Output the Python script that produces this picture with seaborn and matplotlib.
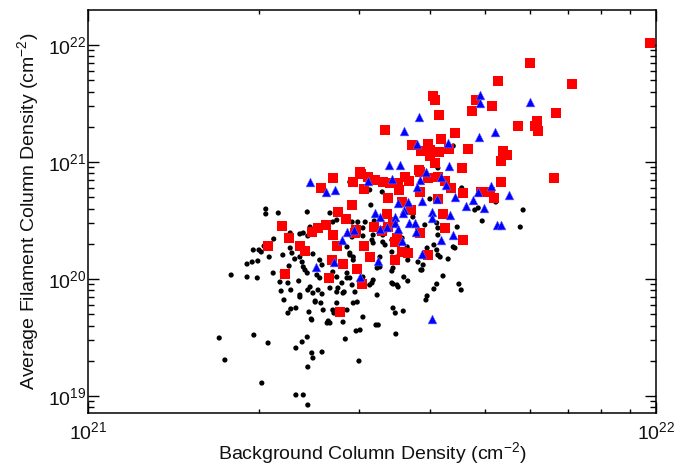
import numpy as np
import pandas as pd
import matplotlib
matplotlib.use("Agg")
import matplotlib.pyplot as plt
import seaborn as sns
from matplotlib.ticker import FixedLocator, NullFormatter, LogLocator

# log10 of column densities (cm^-2)
black_log_bg = [
    21.313, 21.313, 21.335, 21.386, 21.327, 21.291, 21.301, 21.305, 21.310, 21.319,
    21.280, 21.289, 21.299, 21.252, 21.280, 21.298, 21.326, 21.342, 21.338, 21.352,
    21.371, 21.386, 21.379, 21.359, 21.364, 21.373, 21.356, 21.343, 21.356, 21.373,
    21.379, 21.387, 21.340, 21.357, 21.373, 21.387, 21.345, 21.357, 21.352, 21.366,
    21.389, 21.231, 21.292, 21.317, 21.386, 21.377, 21.366, 21.241, 21.387, 21.306,
    21.366, 21.379, 21.387, 21.354, 21.396, 21.400, 21.405, 21.410, 21.414, 21.423,
    21.426, 21.433, 21.438, 21.456, 21.440, 21.393, 21.394, 21.396, 21.412, 21.453,
    21.472, 21.479, 21.542, 21.477, 21.377, 21.382, 21.396, 21.408, 21.412, 21.403,
    21.408, 21.431, 21.438, 21.456, 21.461, 21.484, 21.509, 21.514, 21.535, 21.544,
    21.461, 21.467, 21.391, 21.412, 21.426, 21.438, 21.449, 21.465, 21.496, 21.509,
    21.535, 21.544, 21.373, 21.400, 21.467, 21.474, 21.431, 21.438, 21.394, 21.421,
    21.449, 21.484, 21.511, 21.541, 21.456, 21.461, 21.467, 21.502, 21.502, 21.514,
    21.519, 21.523, 21.537, 21.535, 21.562, 21.563, 21.581, 21.588, 21.597, 21.609,
    21.614, 21.616, 21.620, 21.634, 21.646, 21.625, 21.614, 21.609, 21.597, 21.595,
    21.653, 21.657, 21.556, 21.563, 21.537, 21.546, 21.502, 21.500, 21.451, 21.470,
    21.447, 21.456, 21.537, 21.555, 21.507, 21.590, 21.586, 21.426, 21.461, 21.518,
    21.498, 21.488, 21.475, 21.438, 21.431, 21.391, 21.465, 21.484, 21.500, 21.535,
    21.523, 21.602, 21.658, 21.681, 21.687, 21.694, 21.650, 21.593, 21.614, 21.616,
    21.616, 21.643, 21.496, 21.718, 21.766, 21.761, 21.616, 21.643, 21.504, 21.465,
    21.474, 21.484, 21.572, 21.541, 21.553, 21.519,
]
black_log_fil = [
    20.598, 20.556, 20.564, 20.573, 20.342, 20.248, 20.248, 20.231, 20.282, 20.188,
    20.128, 20.145, 20.154, 20.034, 20.017, 20.009, 20.051, 20.060, 19.974, 19.966,
    19.983, 20.051, 20.103, 20.222, 20.171, 20.188, 20.265, 20.205, 20.393, 20.385,
    20.393, 20.368, 19.897, 19.906, 19.846, 19.906, 19.821, 19.744, 19.709, 19.752,
    19.718, 19.496, 19.521, 19.453, 19.504, 19.462, 19.410, 19.308, 19.248, 19.111,
    19.009, 19.009, 18.923, 20.111, 19.880, 19.812, 19.906, 19.795, 19.735, 19.641,
    19.624, 19.709, 19.795, 19.735, 19.923, 19.658, 19.368, 19.325, 19.376, 19.487,
    19.556, 19.564, 19.530, 19.299, 20.145, 20.077, 20.214, 20.162, 20.120, 20.034,
    20.009, 20.060, 20.017, 20.051, 20.009, 20.017, 20.094, 20.103, 20.231, 20.188,
    20.205, 20.162, 19.932, 19.872, 19.923, 19.889, 19.880, 19.949, 19.949, 19.863,
    19.966, 19.949, 19.863, 19.803, 19.795, 19.803, 19.735, 19.709, 19.650, 19.624,
    19.632, 19.675, 19.607, 19.709, 20.274, 20.222, 20.188, 20.376, 20.308, 20.188,
    20.316, 20.291, 20.094, 20.068, 20.274, 20.162, 20.145, 20.077, 20.265, 20.291,
    20.248, 20.205, 20.188, 20.171, 20.265, 20.026, 19.957, 19.915, 19.855, 19.821,
    19.957, 19.906, 20.017, 19.983, 19.957, 19.932, 19.991, 19.966, 19.889, 19.889,
    19.966, 20.009, 19.752, 19.726, 19.607, 20.120, 20.077, 20.564, 20.829, 20.744,
    20.632, 20.487, 20.487, 20.504, 20.487, 20.444, 20.359, 20.368, 20.333, 20.333,
    20.410, 20.684, 20.778, 20.590, 20.607, 20.496, 20.444, 20.462, 20.479, 20.436,
    20.376, 20.274, 20.761, 20.658, 20.590, 20.444, 20.949, 21.137, 20.496, 20.487,
    20.444, 20.436, 20.530, 20.359, 20.350, 20.376,
]

red_log_bg = [
    21.989, 21.778, 21.722, 21.852, 21.607, 21.611, 21.683, 21.711, 21.676, 21.618,
    21.824, 21.791, 21.787, 21.792, 21.757, 21.523, 21.646, 21.622, 21.599, 21.570,
    21.586, 21.602, 21.618, 21.602, 21.636, 21.669, 21.731, 21.738, 21.727, 21.611,
    21.658, 21.583, 21.479, 21.820, 21.727, 21.467, 21.493, 21.505, 21.519, 21.532,
    21.546, 21.558, 21.565, 21.585, 21.599, 21.616, 21.629, 21.639, 21.486, 21.548,
    21.585, 21.528, 21.553, 21.616, 21.660, 21.692, 21.708, 21.715, 21.465, 21.526,
    21.569, 21.625, 21.431, 21.481, 21.410, 21.440, 21.454, 21.419, 21.405, 21.394,
    21.431, 21.472, 21.504, 21.528, 21.544, 21.486, 21.438, 21.373, 21.629, 21.660,
    21.585, 21.518, 21.537, 21.470, 21.541, 21.553, 21.563, 21.599, 21.497, 21.541,
    21.474, 21.482, 21.449, 21.444, 21.382, 21.430, 21.424, 21.342, 21.354, 21.317,
    21.347,
]
red_log_fil = [
    22.017, 21.846, 21.692, 21.667, 21.564, 21.530, 21.530, 21.479, 21.436, 21.402,
    21.419, 21.350, 21.308, 21.265, 21.308, 21.274, 21.248, 21.197, 21.154, 21.145,
    21.094, 21.103, 21.085, 21.051, 21.111, 21.111, 21.094, 21.060, 21.009, 20.991,
    20.949, 20.932, 20.915, 20.863, 20.829, 20.829, 20.872, 20.846, 20.829, 20.821,
    20.821, 20.872, 20.838, 20.915, 20.863, 20.872, 20.838, 20.778, 20.769, 20.761,
    20.744, 20.692, 20.658, 20.684, 20.735, 20.744, 20.744, 20.692, 20.632, 20.556,
    20.590, 20.556, 20.863, 20.897, 20.778, 20.573, 20.513, 20.462, 20.436, 20.402,
    20.376, 20.419, 20.444, 20.444, 20.350, 20.282, 20.282, 20.282, 20.436, 20.333,
    20.393, 20.410, 20.487, 20.393, 20.316, 20.231, 20.222, 20.205, 20.188, 20.162,
    20.085, 19.957, 20.128, 19.718, 20.239, 20.162, 20.009, 20.453, 20.350, 20.282,
    20.043,
]

blue_log_bg = [
    21.690, 21.690, 21.778, 21.583, 21.556, 21.688, 21.717, 21.579, 21.634, 21.530,
    21.549, 21.636, 21.595, 21.493, 21.535, 21.585, 21.622, 21.630, 21.579, 21.710,
    21.687, 21.741, 21.646, 21.678, 21.666, 21.697, 21.614, 21.588, 21.546, 21.563,
    21.556, 21.505, 21.514, 21.541, 21.555, 21.606, 21.606, 21.637, 21.565, 21.576,
    21.541, 21.546, 21.514, 21.577, 21.720, 21.727, 21.643, 21.456, 21.468, 21.391,
    21.419, 21.435, 21.526, 21.447, 21.553, 21.588, 21.622, 21.511, 21.479, 21.606,
    21.401, 21.433,
]
blue_log_fil = [
    21.573, 21.504, 21.513, 21.385, 21.265, 21.214, 21.256, 21.154, 21.162, 20.974,
    20.974, 20.966, 20.915, 20.838, 20.855, 20.846, 20.872, 20.803, 20.786, 20.795,
    20.744, 20.718, 20.701, 20.675, 20.624, 20.607, 20.684, 20.667, 20.650, 20.658,
    20.590, 20.564, 20.530, 20.530, 20.564, 20.573, 20.521, 20.547, 20.479, 20.479,
    20.479, 20.427, 20.427, 20.402, 20.462, 20.462, 20.376, 20.402, 20.419, 20.829,
    20.744, 20.761, 20.444, 20.333, 20.325, 20.214, 20.333, 20.154, 20.017, 19.658,
    20.103, 20.145,
]

x_ticks = [1e21, 1e22]
x_ticklabels = [r"$\mathregular{10^{21}}$", r"$\mathregular{10^{22}}$"]
y_ticks = [1e19, 1e20, 1e21, 1e22]
y_ticklabels = [r"$\mathregular{10^{19}}$", r"$\mathregular{10^{20}}$",
                r"$\mathregular{10^{21}}$", r"$\mathregular{10^{22}}$"]
x_label = r"Background Column Density (cm$^{\mathregular{-2}}$)"
y_label = r"Average Filament Column Density (cm$^{\mathregular{-2}}$)"

black_df = pd.DataFrame({"bg": np.power(10.0, black_log_bg), "fil": np.power(10.0, black_log_fil)})
red_df = pd.DataFrame({"bg": np.power(10.0, red_log_bg), "fil": np.power(10.0, red_log_fil)})
blue_df = pd.DataFrame({"bg": np.power(10.0, blue_log_bg), "fil": np.power(10.0, blue_log_fil)})

sns.set_style("ticks")
plt.rcParams["font.family"] = ["Liberation Sans", "DejaVu Sans"]
plt.rcParams["mathtext.fontset"] = "custom"
plt.rcParams["mathtext.rm"] = "Liberation Sans"
plt.rcParams["mathtext.it"] = "Liberation Sans:italic"
plt.rcParams["mathtext.bf"] = "Liberation Sans:bold"
plt.rcParams["axes.unicode_minus"] = False

fig = plt.figure(figsize=(6.94, 4.66), dpi=100)
ax = fig.add_axes([88 / 694, 1 - 413 / 466, (656 - 88) / 694, (413 - 10) / 466])

sns.scatterplot(data=black_df, x="bg", y="fil", ax=ax, color="black", marker="o",
                s=14, linewidth=0, edgecolor="none", zorder=2)
sns.scatterplot(data=red_df, x="bg", y="fil", ax=ax, color="#ff0000", marker="s",
                s=48, linewidth=0, edgecolor="none", zorder=3)
sns.scatterplot(data=blue_df, x="bg", y="fil", ax=ax, color="#0000ff", marker="^",
                s=40, linewidth=0.4, edgecolor="#6a6aff", zorder=4)

ax.set_xscale("log")
ax.set_yscale("log")
ax.set_xlim(1e21, 1e22)
ax.set_ylim(7.16e18, 1.99e22)

ax.xaxis.set_major_locator(FixedLocator(x_ticks))
ax.set_xticklabels(x_ticklabels)
ax.yaxis.set_major_locator(FixedLocator(y_ticks))
ax.set_yticklabels(y_ticklabels)
ax.xaxis.set_minor_locator(LogLocator(base=10, subs=np.arange(2, 10), numticks=20))
ax.yaxis.set_minor_locator(LogLocator(base=10, subs=np.arange(2, 10), numticks=20))
ax.xaxis.set_minor_formatter(NullFormatter())
ax.yaxis.set_minor_formatter(NullFormatter())

ax.tick_params(axis="both", which="both", direction="in", top=True, right=True,
               color="black", width=1.0, labelsize=14, labelcolor="#111111")
ax.tick_params(axis="y", which="major", length=8, pad=1)
ax.tick_params(axis="y", which="minor", length=4.5)
ax.tick_params(axis="x", which="major", length=8, pad=6)
ax.tick_params(axis="x", which="minor", length=3)

for sp in ax.spines.values():
    sp.set_color("black")
    sp.set_linewidth(1.1)

ax.set_xlabel(x_label, fontsize=14, labelpad=-2, color="#111111")
ax.set_ylabel(y_label, fontsize=14, labelpad=5, color="#111111")

fig.savefig("out.png", dpi=100, facecolor="white")
